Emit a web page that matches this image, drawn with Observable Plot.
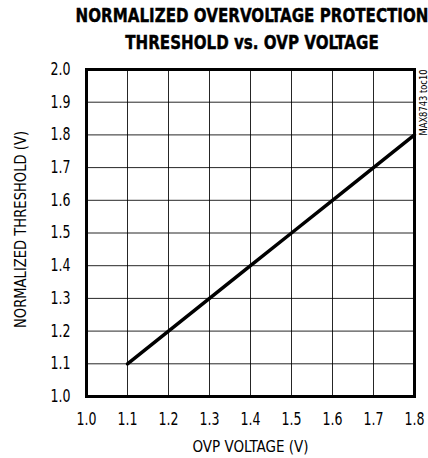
<!DOCTYPE html>
<html><head><meta charset="utf-8">
<script src="https://cdn.jsdelivr.net/npm/d3@7"></script>
<script src="https://cdn.jsdelivr.net/npm/@observablehq/plot@0.6"></script>
<style>
html,body{margin:0;padding:0;background:#fff;overflow:hidden;width:428px;height:458px}
#title{position:relative;height:56px;width:428px;overflow:hidden}
#title div{position:absolute;left:0;top:1.5px;width:504px;text-align:center;white-space:nowrap;font:bold 20px/27px "Liberation Sans Narrow","DejaVu Sans Condensed",sans-serif;color:#000;transform:scaleX(0.84);transform-origin:252px 0;-webkit-text-stroke:0.4px #000}
</style></head><body>
<div id="title"><div id="tt"></div></div>
<div id="chart"></div>
<script>
const titleLines = ["NORMALIZED OVERVOLTAGE PROTECTION", "THRESHOLD vs. OVP VOLTAGE"];
const ovpVoltage = [1.1, 1.2, 1.3, 1.4, 1.5, 1.6, 1.7, 1.8];
const threshold  = [1.1, 1.2, 1.3, 1.4, 1.5, 1.6, 1.7, 1.8];
const xTicks = [1.0, 1.1, 1.2, 1.3, 1.4, 1.5, 1.6, 1.7, 1.8];
const yTicks = [1.0, 1.1, 1.2, 1.3, 1.4, 1.5, 1.6, 1.7, 1.8, 1.9, 2.0];
const xLabel = "OVP VOLTAGE (V)";
const yLabel = "NORMALIZED THRESHOLD (V)";
const note = "MAX8743 toc10";

const tt = document.getElementById("tt");
titleLines.forEach((t, i) => {
  if (i) tt.appendChild(document.createElement("br"));
  tt.appendChild(document.createTextNode(t));
});

const data = ovpVoltage.map((x, i) => ({x, y: threshold[i]}));
const font = '"Liberation Sans Narrow","DejaVu Sans Condensed",sans-serif';
const fmt = d3.format(".1f");

const chart = Plot.plot({
  width: 428, height: 402,
  marginTop: 13, marginBottom: 62, marginLeft: 86, marginRight: 14,
  style: {fontFamily: font, background: "#fff", color: "#000"},
  x: {domain: [1.0, 1.8]},
  y: {domain: [1.0, 2.0]},
  marks: [
    Plot.gridX(xTicks, {stroke: "#000", strokeOpacity: 0.85, strokeWidth: 1}),
    Plot.gridY(yTicks, {stroke: "#000", strokeOpacity: 0.85, strokeWidth: 1}),
    Plot.axisX(xTicks, {tickSize: 0, tickPadding: 16, tickFormat: fmt, fontSize: 17, label: null}),
    Plot.axisY(yTicks, {tickSize: 0, tickPadding: 16, tickFormat: fmt, fontSize: 17, label: null}),
    Plot.line(data, {x: "x", y: "y", stroke: "#000", strokeWidth: 3.5}),
    Plot.frame({stroke: "#000", strokeWidth: 3}),
    Plot.text([xLabel], {text: d => d, frameAnchor: "bottom", textAnchor: "middle", lineAnchor: "top", dy: 44, fontSize: 16}),
    Plot.text([yLabel], {text: d => d, frameAnchor: "left", rotate: -90, textAnchor: "middle", lineAnchor: "middle", dx: -65.5, dy: -3.5, fontSize: 16}),
    Plot.text([note], {text: d => d, frameAnchor: "top-right", rotate: -90, textAnchor: "end", lineAnchor: "middle", dx: 9, fontSize: 10})
  ]
});
const fit = {[xLabel]: 116, [yLabel]: 197, [note]: 66};
const tickLabels = new Set([...xTicks, ...yTicks].map(fmt));
d3.select(chart).selectAll("text").each(function() {
  const t = this.textContent;
  const len = fit[t] ?? (tickLabels.has(t) ? 20 : null);
  if (len) { this.setAttribute("textLength", len); this.setAttribute("lengthAdjust", "spacingAndGlyphs"); }
});
document.getElementById("chart").appendChild(chart);
</script>
</body></html>
